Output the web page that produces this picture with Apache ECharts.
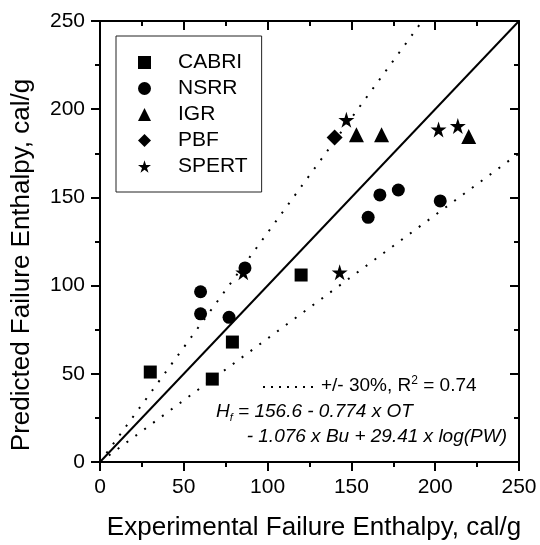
<!DOCTYPE html>
<html>
<head>
<meta charset="utf-8">
<script src="https://cdn.jsdelivr.net/npm/echarts@6/dist/echarts.min.js"></script>
<style>html,body{margin:0;padding:0;background:#fff;}#c{width:540px;height:545px;}</style>
</head>
<body>
<div id="c"></div>
<script>
// ---- data ----
var seriesNames = ['CABRI', 'NSRR', 'IGR', 'PBF', 'SPERT'];
var cabri = [[30, 51], [67, 47], [79, 68], [120, 106]];
var nsrr = [[60, 96.5], [60, 84], [77, 82], [86.5, 110], [160, 138.7], [167, 151.4], [178, 154.2], [203, 148]];
var igr = [[153, 185.5], [168, 185.5], [220, 184.5]];
var pbf = [[140, 184]];
var spert = [[147, 194], [85.5, 107.5], [143, 107.5], [202, 188.5], [213.5, 190.5]];
var diagLine = [[0, 0], [250, 250]];
var upperLine = [[0, 0], [192.3, 250]];
var lowerLine = [[0, 0], [250, 175]];
var tickValues = [0, 50, 100, 150, 200, 250];
var xTitle = 'Experimental Failure Enthalpy, cal/g';
var yTitle = 'Predicted Failure Enthalpy, cal/g';

var FONT = '"Liberation Sans", Arial, Helvetica, sans-serif';
var STAR = 'path://M50,0L61.2,34.5L97.6,34.5L68.2,55.9L79.4,90.5L50,69.1L20.6,90.5L31.8,55.9L2.4,34.5L38.8,34.5Z';

var chart = echarts.init(document.getElementById('c'), null, {renderer: 'canvas'});

function axisCommon(pos, showLabel, inside) {
  return {
    type: 'value', position: pos, min: 0, max: 250, interval: 50,
    axisLine: {show: true, onZero: false, lineStyle: {color: '#000', width: 2}},
    axisTick: {show: true, inside: inside, length: 9, lineStyle: {color: '#000', width: 2}},
    minorTick: {show: true, splitNumber: 2, length: 5, lineStyle: {color: '#000', width: 2}},
    splitLine: {show: false},
    axisLabel: {show: showLabel, color: '#000', fontSize: 21, fontFamily: FONT, margin: 15,
      formatter: function (v) { return tickValues.indexOf(v) >= 0 ? String(v) : ''; }}
  };
}

var xb = axisCommon('bottom', true, false);
var xt = axisCommon('top', false, true);
var yl = axisCommon('left', true, false);
var yr = axisCommon('right', false, true);
xt.minorTick.inside = true;
yr.minorTick.inside = true;

function scat(name, data, symbol, size, z) {
  return {
    name: name, type: 'scatter', data: data, symbol: symbol, symbolSize: size,
    itemStyle: {color: '#000', opacity: 1}, emphasis: {disabled: true}, z: z, xAxisIndex: 0, yAxisIndex: 0
  };
}
function refLine(data, type, width) {
  return {
    type: 'line', data: data, symbol: 'none', silent: true, z: 1,
    lineStyle: {color: '#000', width: width, type: type}, xAxisIndex: 0, yAxisIndex: 0
  };
}

var option = {
  animation: false,
  backgroundColor: '#fff',
  grid: {left: 100, right: 21, top: 21, bottom: 83, containLabel: false},
  xAxis: [xb, xt],
  yAxis: [yl, yr],
  legend: {
    orient: 'vertical', left: 116, top: 36,
    data: seriesNames,
    itemWidth: 13, itemHeight: 13, itemGap: 5,
    padding: [16, 14, 15, 22],
    borderColor: '#222', borderWidth: 1, borderRadius: 0,
    itemStyle: {opacity: 1, color: '#000'},
    textStyle: {color: '#000', fontSize: 21, fontFamily: FONT, lineHeight: 21, padding: [0, 0, 0, 22]},
    selectedMode: false
  },
  series: [
    refLine(diagLine, 'solid', 2),
    refLine(upperLine, [2, 9], 2),
    refLine(lowerLine, [2, 9], 2),
    scat('CABRI', cabri, 'rect', 13, 5),
    scat('NSRR', nsrr, 'circle', 13, 6),
    scat('IGR', igr, 'triangle', 15, 5),
    scat('PBF', pbf, 'diamond', 16, 5),
    scat('SPERT', spert, STAR, 16, 5)
  ],
  graphic: [
    {type: 'text', x: 314, y: 528, style: {text: xTitle, fontSize: 26, fontFamily: FONT, fill: '#000', align: 'center', verticalAlign: 'middle'}},
    {type: 'text', x: 22, y: 265, rotation: Math.PI / 2, style: {text: yTitle, fontSize: 26, fontFamily: FONT, fill: '#000', align: 'center', verticalAlign: 'middle'}},
    {type: 'line', shape: {x1: 263, y1: 387, x2: 315, y2: 387}, style: {stroke: '#000', lineWidth: 2, lineDash: [2, 6]}},
    {type: 'text', x: 321, y: 386, style: {
      text: '+/- 30%, R{sup|2} = 0.74', fontSize: 19, fontFamily: FONT, fill: '#000', align: 'left', verticalAlign: 'middle',
      rich: {sup: {fontSize: 12, fontFamily: FONT, fill: '#000', padding: [0, 0, 10, 0]}}}},
    {type: 'text', x: 216, y: 412, style: {
      text: 'H{sub|f} = 156.6 - 0.774 x OT', fontSize: 19, fontStyle: 'italic', fontFamily: FONT, fill: '#000', align: 'left', verticalAlign: 'middle',
      rich: {sub: {fontSize: 11, fontStyle: 'italic', fontFamily: FONT, fill: '#000', padding: [12, 0, 0, 0]}}}},
    {type: 'text', x: 507, y: 437, style: {
      text: '- 1.076 x Bu + 29.41 x log(PW)', fontSize: 19, fontStyle: 'italic', fontFamily: FONT, fill: '#000', align: 'right', verticalAlign: 'middle'}}
  ]
};
chart.setOption(option);
</script>
</body>
</html>
